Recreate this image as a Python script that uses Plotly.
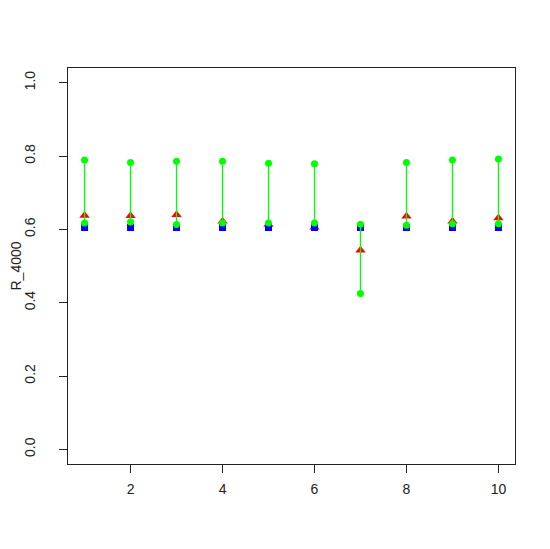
import plotly.graph_objects as go

# values
runs = [1, 2, 3, 4, 5, 6, 7, 8, 9, 10]
r_ref = [0.605, 0.605, 0.605, 0.605, 0.605, 0.605, 0.605, 0.605, 0.605, 0.605]
r_mid = [0.638, 0.637, 0.640, 0.622, 0.613, 0.606, 0.543, 0.636, 0.622, 0.631]
r_hi = [0.789, 0.782, 0.786, 0.786, 0.780, 0.779, 0.614, 0.782, 0.789, 0.792]
r_lo = [0.617, 0.620, 0.613, 0.617, 0.617, 0.617, 0.425, 0.611, 0.615, 0.615]

x_ticks = [2, 4, 6, 8, 10]
y_ticks = [0.0, 0.2, 0.4, 0.6, 0.8, 1.0]

# vertical segments lo -> hi, broken with None
seg_x, seg_y = [], []
for x, lo, hi in zip(runs, r_lo, r_hi):
    seg_x += [x, x, None]
    seg_y += [lo, hi, None]

fig = go.Figure()
fig.add_trace(go.Scatter(
    x=runs, y=r_mid, mode="markers",
    marker=dict(symbol="triangle-up", size=9, color="#FF0000"),
))
fig.add_trace(go.Scatter(
    x=runs, y=r_ref, mode="markers",
    marker=dict(symbol="square", size=7, color="#0000FF"),
))
fig.add_trace(go.Scatter(
    x=seg_x, y=seg_y, mode="lines",
    line=dict(color="#00FF00", width=1.3),
))
fig.add_trace(go.Scatter(
    x=runs + runs, y=r_lo + r_hi, mode="markers",
    marker=dict(symbol="circle", size=7, color="#00FF00"),
))

axis_style = dict(
    showgrid=False, zeroline=False, automargin=False,
    showline=True, mirror=True, linecolor="#222", linewidth=1,
    ticks="outside", ticklen=8, tickcolor="#222", tickwidth=1,
    tickfont=dict(family="Liberation Sans, Arial", size=14, color="#222"),
)

# page body has an 8px default margin, so margins are trimmed by 8
fig.update_layout(
    width=550, height=549,
    margin=dict(l=60, r=43, t=60, b=93),
    paper_bgcolor="white", plot_bgcolor="white",
    showlegend=False,
    xaxis=dict(range=[0.64, 10.36], tickvals=x_ticks, ticklabelstandoff=4, **axis_style),
    yaxis=dict(range=[-0.04, 1.04], tickvals=y_ticks, tickformat=".1f",
               tickangle=-90, ticklabelstandoff=18,
               title=dict(text="R_4000", standoff=18,
                          font=dict(family="Liberation Sans, Arial", size=14, color="#222")),
               **axis_style),
)

fig.write_html("out.html")
